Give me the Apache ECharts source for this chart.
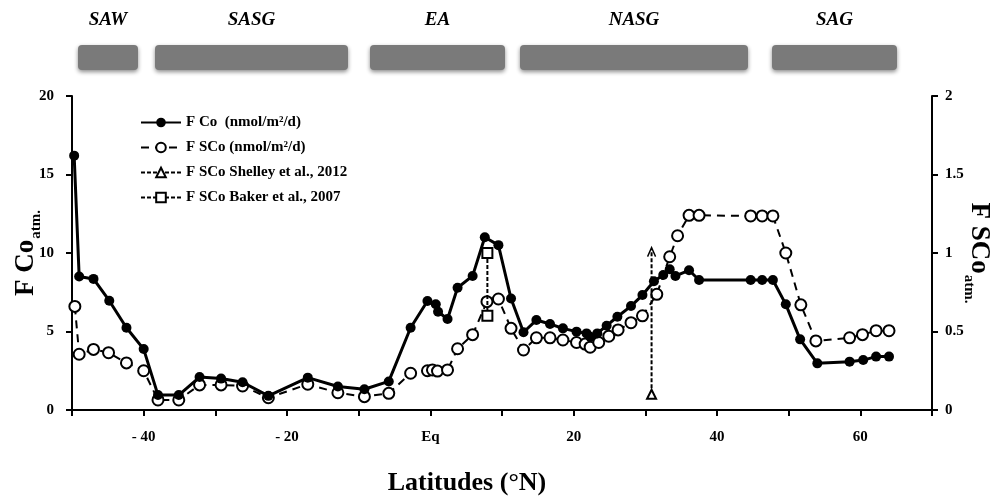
<!DOCTYPE html>
<html>
<head>
<meta charset="utf-8">
<script src="https://cdn.jsdelivr.net/npm/echarts@6/dist/echarts.min.js"></script>
<style>
  html, body { margin: 0; padding: 0; background: #fff; }
  #chart { width: 1000px; height: 499px; }
</style>
</head>
<body>
<div id="chart"></div>
<script>
// latitudes (°N) and F Co (nmol/m2/d), left axis
const coLat = [-49.7, -49.0, -47.0, -44.8, -42.4, -40.0, -38.0, -35.1, -32.2, -29.2, -26.2, -22.6, -17.1, -12.9,
  -9.2, -5.8, -2.75, -0.4, 0.76, 1.08, 2.4, 3.8, 5.9, 7.6, 9.5, 11.26, 13.0, 14.8, 16.7, 18.5, 20.4, 21.8, 22.3,
  23.3, 24.6, 26.1, 28.0, 29.6, 31.2, 32.5, 33.4, 34.2, 36.1, 37.5, 44.7, 46.3, 47.8, 49.6, 51.6, 54.0, 58.5,
  60.4, 62.2, 64.0];
const coVal = [16.2, 8.5, 8.35, 6.96, 5.24, 3.88, 0.95, 0.95, 2.1, 2.0, 1.77, 0.9, 2.06, 1.5,
  1.32, 1.82, 5.24, 6.94, 6.73, 6.26, 5.8, 7.79, 8.54, 11.0, 10.5, 7.1, 4.95, 5.73, 5.48, 5.2, 4.99, 4.88, 4.67,
  4.88, 5.37, 5.94, 6.62, 7.32, 8.2, 8.6, 8.96, 8.54, 8.9, 8.28, 8.28, 8.28, 8.28, 6.73, 4.5, 2.97, 3.08,
  3.18, 3.4, 3.4];

// F SCo (nmol/m2/d), right axis
const scoLat = [-49.6, -49.0, -47.0, -44.9, -42.4, -40.0, -38.0, -35.1, -32.2, -29.2, -26.2, -22.6, -17.1, -12.9,
  -9.2, -5.8, -2.75, -0.4, 0.3, 1.0, 2.4, 3.8, 5.9, 7.9, 9.5, 11.26, 13.0, 14.8, 16.7, 18.5, 20.4, 21.6, 22.3,
  23.5, 24.9, 26.2, 28.0, 29.6, 31.6, 33.4, 34.5, 36.1, 37.5, 44.7, 46.3, 47.8, 49.6, 51.7, 53.8, 58.5, 60.3,
  62.2, 64.0];
const scoVal = [0.66, 0.355, 0.386, 0.365, 0.30, 0.25, 0.064, 0.064, 0.16, 0.16, 0.153, 0.078, 0.164, 0.11,
  0.085, 0.106, 0.234, 0.25, 0.255, 0.248, 0.255, 0.39, 0.48, 0.69, 0.707, 0.52, 0.382, 0.46, 0.46, 0.446, 0.43,
  0.42, 0.40, 0.43, 0.47, 0.51, 0.556, 0.6, 0.737, 0.976, 1.11, 1.24, 1.24, 1.236, 1.236, 1.236, 1.0, 0.67, 0.44,
  0.46, 0.48, 0.505, 0.505];

// literature values (right axis)
const shelleyLat = [30.87, 30.87];
const shelleyVal = [0.10, 1.025];
const bakerLat = [7.96, 7.96];
const bakerVal = [1.0, 0.6];

// regions shown above the plot
const regionNames = ['SAW', 'SASG', 'EA', 'NASG', 'SAG'];
const regionBoxes = [[78, 138], [155, 348], [370, 505], [520, 748], [772, 897]];

const serif = '"Liberation Serif", "Times New Roman", serif';

const zip = (xs, ys) => xs.map((x, i) => [x, ys[i]]);

const chart = echarts.init(document.getElementById('chart'));

const graphics = [];
regionBoxes.forEach((b, i) => {
  graphics.push({
    type: 'rect',
    shape: { x: b[0], y: 45, width: b[1] - b[0], height: 25, r: 4 },
    style: { fill: '#7a7a7a', shadowBlur: 4, shadowOffsetY: 2, shadowColor: 'rgba(0,0,0,0.45)' }
  });
  graphics.push({
    type: 'text',
    x: (b[0] + b[1]) / 2, y: 20,
    style: {
      text: regionNames[i], fontFamily: serif, fontSize: 19, fontWeight: 'bold', fontStyle: 'italic',
      fill: '#000', align: 'center', verticalAlign: 'middle'
    }
  });
});

const yName = {
  a: { fontFamily: serif, fontWeight: 'bold', fontSize: 27, color: '#000', verticalAlign: 'bottom' },
  b: { fontFamily: serif, fontWeight: 'bold', fontSize: 15, color: '#000', verticalAlign: 'bottom', padding: [0, 0, -4, 1] }
};

const option = {
  animation: false,
  backgroundColor: '#fff',
  grid: { left: 72, right: 68, top: 96, bottom: 89, outerBoundsMode: 'none', containLabel: false },
  legend: {
    orient: 'vertical',
    left: 135, top: 110,
    itemWidth: 40, itemHeight: 12, itemGap: 10,
    textStyle: { fontFamily: serif, fontWeight: 'bold', fontSize: 15, color: '#000' },
    data: ['F Co  (nmol/m²/d)', 'F SCo (nmol/m²/d)', 'F SCo Shelley et al., 2012', 'F SCo Baker et al., 2007']
  },
  xAxis: {
    type: 'value', min: -50, max: 70, interval: 10,
    axisLine: { lineStyle: { color: '#000', width: 2 } },
    axisTick: { show: true, length: 6, lineStyle: { color: '#000', width: 2 } },
    splitLine: { show: false },
    axisLabel: {
      margin: 20, color: '#000', fontFamily: serif, fontWeight: 'bold', fontSize: 15,
      formatter: v => (v % 20 !== 0 ? '' : v === 0 ? 'Eq' : v < 0 ? '- ' + Math.abs(v) : String(v))
    },
    name: 'Latitudes (°N)', nameLocation: 'middle', nameGap: 60, nameMoveOverlap: false,
    nameTextStyle: { fontFamily: serif, fontWeight: 'bold', fontSize: 26, color: '#000', padding: [0, 70, 0, 0] }
  },
  yAxis: [{
    type: 'value', min: 0, max: 20, interval: 5,
    axisLine: { show: true, onZero: false, lineStyle: { color: '#000', width: 2 } },
    axisTick: { show: true, length: 6, lineStyle: { color: '#000', width: 2 } },
    splitLine: { show: false },
    axisLabel: { margin: 18, color: '#000', fontFamily: serif, fontWeight: 'bold', fontSize: 15 },
    name: '{a|F Co}{b|atm.}', nameLocation: 'middle', nameGap: 32, nameRotate: 90, nameMoveOverlap: false,
    nameTextStyle: { rich: yName }
  }, {
    type: 'value', min: 0, max: 2, interval: 0.5, position: 'right',
    axisLine: { show: true, onZero: false, lineStyle: { color: '#000', width: 2 } },
    axisTick: { show: true, length: 6, lineStyle: { color: '#000', width: 2 } },
    splitLine: { show: false },
    axisLabel: { margin: 13, color: '#000', fontFamily: serif, fontWeight: 'bold', fontSize: 15 },
    name: '{a|F SCo}{b|atm.}', nameLocation: 'middle', nameGap: 33, nameRotate: -90, nameMoveOverlap: false,
    nameTextStyle: { rich: yName }
  }],
  series: [{
    name: 'F Co  (nmol/m²/d)', type: 'line', yAxisIndex: 0,
    data: zip(coLat, coVal),
    symbol: 'circle', symbolSize: 10,
    lineStyle: { color: '#000', width: 3 },
    itemStyle: { color: '#000' },
    z: 3
  }, {
    name: 'F SCo (nmol/m²/d)', type: 'line', yAxisIndex: 1,
    data: zip(scoLat, scoVal),
    symbol: 'emptyCircle', symbolSize: 11,
    lineStyle: { color: '#000', width: 2, type: [8, 6] },
    itemStyle: { color: '#000', borderWidth: 1 },
    z: 2
  }, {
    name: 'F SCo Shelley et al., 2012', type: 'line', yAxisIndex: 1,
    data: [
      { value: [shelleyLat[0], shelleyVal[0]] },
      {
        value: [shelleyLat[1], shelleyVal[1]],
        symbol: 'path://M0 10L5 0L10 10', symbolSize: [8, 9], symbolOffset: [0, 3],
        itemStyle: { color: 'transparent', borderColor: '#000', borderWidth: 1.5 }
      }
    ],
    symbol: 'emptyTriangle', symbolSize: 9,
    lineStyle: { color: '#000', width: 2, type: [4, 2] },
    itemStyle: { color: '#000', borderWidth: 1 },
    z: 4
  }, {
    name: 'F SCo Baker et al., 2007', type: 'line', yAxisIndex: 1,
    data: zip(bakerLat, bakerVal),
    symbol: 'emptyRect', symbolSize: 10,
    lineStyle: { color: '#000', width: 2, type: [4, 2] },
    itemStyle: { color: '#000', borderWidth: 1 },
    z: 4
  }],
  graphic: graphics
};

chart.setOption(option);
</script>
</body>
</html>
